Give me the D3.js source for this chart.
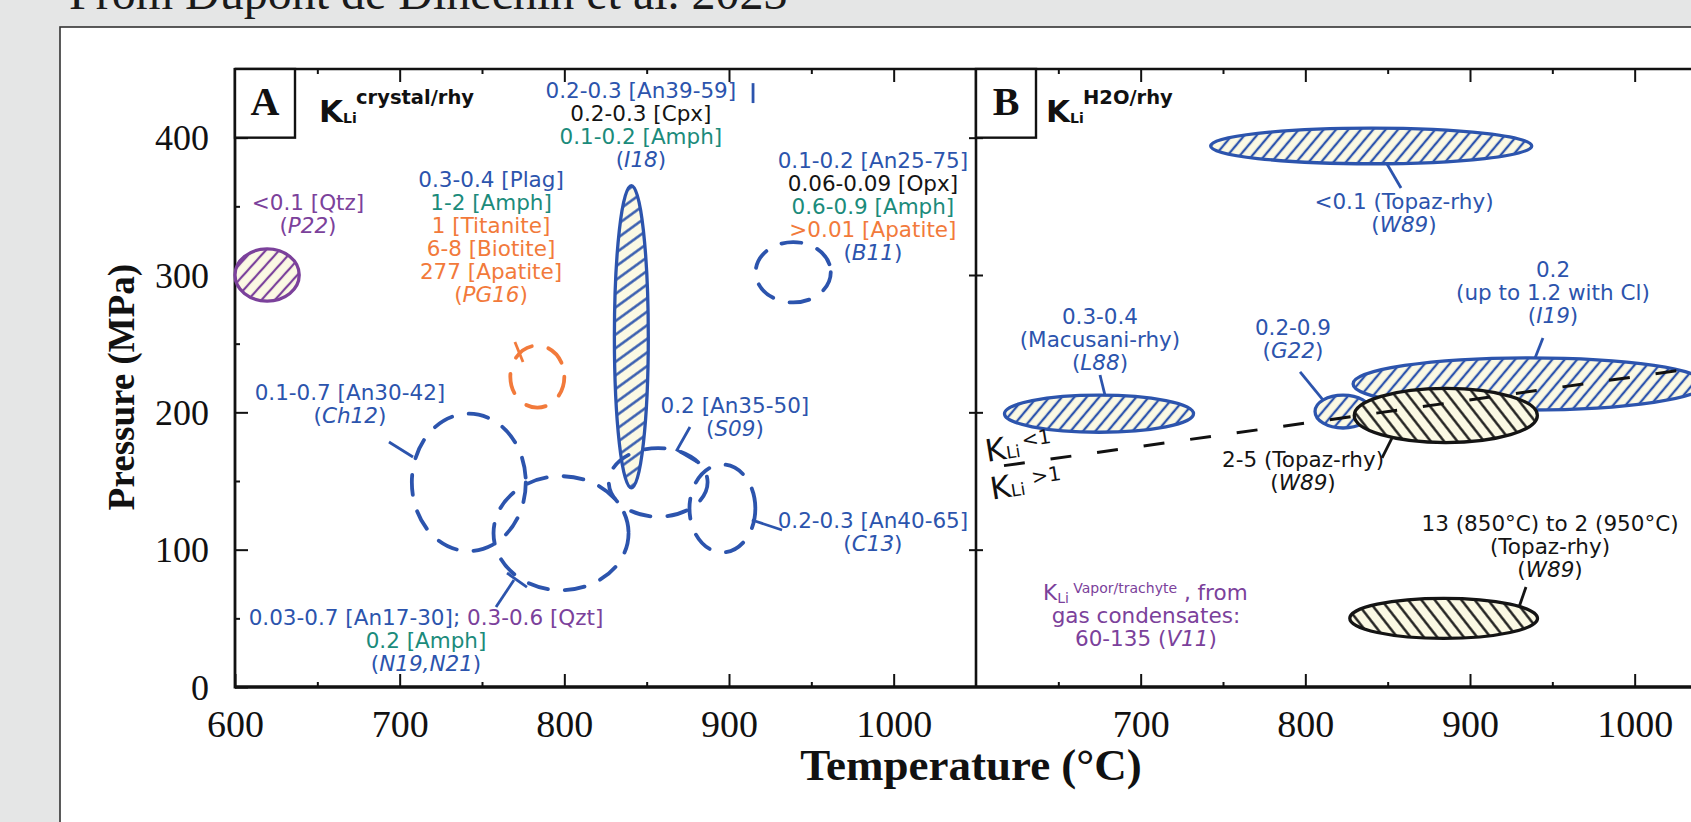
<!DOCTYPE html>
<html><head><meta charset="utf-8">
<script src="https://cdn.jsdelivr.net/npm/d3@7"></script>
<style>
html,body{margin:0;padding:0;background:#e5e6e6;overflow:hidden;}
svg{display:block;}
text{white-space:pre;}
</style></head><body>
<svg id="chart" width="1691" height="822"></svg>
<script>
// ================= DATA =================
const titleText = "From Dupont de Dinechin et al. 2023";
const xDomain = [600, 1050];          // temperature (°C)
const yDomain = [0, 450];             // pressure (MPa)
const xTicksA = [600, 700, 800, 900, 1000];
const xTicksB = [700, 800, 900, 1000];
const xMinor = [650, 750, 850, 950];
const yTicks = [0, 100, 200, 300, 400];
const yMinor = [50, 150, 250, 350];
const yTicksB = [100, 200, 300, 400];

// Panel A: K_Li crystal/rhyolite fields (T, P centre; dT, dP half ranges)
const fieldsA = [
  {ref:"P22",     phase:"qtz",  method:"exp", T:619.5, P:300,   dT:19.5, dP:19},
  {ref:"I18",     phase:"plag", method:"exp", T:840.7, P:255,   dT:10.3, dP:110},
  {ref:"PG16",    phase:"acc",  method:"nat", T:783.6, P:226,   dT:16.4, dP:22.6},
  {ref:"B11",     phase:"plag", method:"nat", T:939,   P:302,   dT:22.8, dP:22},
  {ref:"Ch12",    phase:"plag", method:"nat", T:742,   P:149,   dT:34.6, dP:50},
  {ref:"N19,N21", phase:"plag", method:"nat", T:798,   P:112,   dT:41,   dP:41.5},
  {ref:"S09",     phase:"plag", method:"nat", T:857,   P:149,   dT:30,   dP:25},
  {ref:"C13",     phase:"plag", method:"nat", T:896,   P:130,   dT:20,   dP:32}
];
// Panel B: K_Li H2O/rhyolite fields
const fieldsB = [
  {ref:"W89", phase:"fluid", T:840,   P:394,   dT:97.5, dP:13},
  {ref:"L88", phase:"fluid", T:674.7, P:199,   dT:57.4, dP:13.5},
  {ref:"I19", phase:"fluid", T:936,   P:220.7, dT:107,  dP:19},
  {ref:"G22", phase:"fluid", T:822.9, P:200.6, dT:17,   dP:12},
  {ref:"W89", phase:"topaz", T:885.3, P:197.7, dT:55.6, dP:19.7},
  {ref:"W89", phase:"topaz", T:884,   P:50,    dT:57,   dP:14.6}
];
// K_Li = 1 boundary (T, P)
const boundaryT = [617, 1040];
const boundaryP = [161.2, 232.7];

// Annotation texts: anchor (T, P) of first line; segments [text, phase, italic]
const labelsA = [
  {T:846.5, P:428.9, lines:[[["0.2-0.3 [An39-59]","plag"]],[["0.2-0.3 [Cpx]","px"]],[["0.1-0.2 [Amph]","amph"]],[["(","plag"],["I18","plag",1],[")","plag"]]]},
  {T:755.5, P:364.1, lines:[[["0.3-0.4 [Plag]","plag"]],[["1-2 [Amph]","amph"]],[["1 [Titanite]","acc"]],[["6-8 [Biotite]","acc"]],[["277 [Apatite]","acc"]],[["(","acc"],["PG16","acc",1],[")","acc"]]]},
  {T:644.3, P:347.3, lines:[[["<0.1 [Qtz]","qtz"]],[["(","qtz"],["P22","qtz",1],[")","qtz"]]]},
  {T:987.4, P:377.9, lines:[[["0.1-0.2 [An25-75]","plag"]],[["0.06-0.09 [Opx]","px"]],[["0.6-0.9 [Amph]","amph"]],[[">0.01 [Apatite]","acc"]],[["(","plag"],["B11","plag",1],[")","plag"]]]},
  {T:669.8, P:209,   lines:[[["0.1-0.7 [An30-42]","plag"]],[["(","plag"],["Ch12","plag",1],[")","plag"]]]},
  {T:903.6, P:199.5, lines:[[["0.2 [An35-50]","plag"]],[["(","plag"],["S09","plag",1],[")","plag"]]]},
  {T:987.4, P:115.8, lines:[[["0.2-0.3 [An40-65]","plag"]],[["(","plag"],["C13","plag",1],[")","plag"]]]},
  {T:716,   P:45.1,  lines:[[["0.03-0.7 [An17-30]; ","plag"],["0.3-0.6 [Qzt]","qtz"]],[["0.2 [Amph]","amph"]],[["(","plag"],["N19,N21","plag",1],[")","plag"]]]}
];
const labelsB = [
  {T:859.9, P:348.1, lines:[[["<0.1 (Topaz-rhy)","fluid"]],[["(","fluid"],["W89","fluid",1],[")","fluid"]]]},
  {T:950.4, P:298.5, lines:[[["0.2","fluid"]],[["(up to 1.2 with Cl)","fluid"]],[["(","fluid"],["I19","fluid",1],[")","fluid"]]]},
  {T:675.3, P:264.3, lines:[[["0.3-0.4","fluid"]],[["(Macusani-rhy)","fluid"]],[["(","fluid"],["L88","fluid",1],[")","fluid"]]]},
  {T:792.5, P:256.3, lines:[[["0.2-0.9","fluid"]],[["(","fluid"],["G22","fluid",1],[")","fluid"]]]},
  {T:798.6, P:160.2, lines:[[["2-5 (Topaz-rhy)","topaz"]],[["(","topaz"],["W89","topaz",1],[")","topaz"]]]},
  {T:948.6, P:113.6, lines:[[["13 (850°C) to 2 (950°C)","topaz"]],[["(Topaz-rhy)","topaz"]],[["(","topaz"],["W89","topaz",1],[")","topaz"]]]},
  {T:703.2, P:46.6,  lines:[[["gas condensates:","vapor"]],[["60-135 (","vapor"],["V11","vapor",1],[")","vapor"]]]}
];
// Leader lines (T, P points)
const leadersA = [
  {phase:"plag", pts:[[914.6,439.7],[914.6,425.2]]},
  {phase:"plag", pts:[[693.5,178.4],[708.1,167.5]]},
  {phase:"plag", pts:[[876.3,189.3],[868.4,172.6],[880.6,163.8]]},
  {phase:"plag", pts:[[913.9,121.6],[932.2,114.3]]},
  {phase:"plag", pts:[[758.5,58.3],[769.4,77.9]]},
  {phase:"plag", pts:[[765.2,83],[777.3,72.8]]},
  {phase:"acc",  pts:[[770,251.2],[774.9,236.7]]}
];
const leadersB = [
  {phase:"fluid", pts:[[849.6,380.8],[858.1,363.4]]},
  {phase:"fluid", pts:[[944.3,254.1],[939.5,239.6]]},
  {phase:"fluid", pts:[[675.3,227.2],[678.3,212.6]]},
  {phase:"fluid", pts:[[796.8,229.4],[810.7,209]]},
  {phase:"topaz", pts:[[852.6,181.3],[846.6,166.8]]},
  {phase:"topaz", pts:[[934,72.8],[929.8,58.3]]}
];

// ================= STYLE =================
const phaseColor = {plag:"#2c54ad", px:"#141414", amph:"#1b8b7b", acc:"#f27a3b",
                    qtz:"#7b419b", fluid:"#2c54ad", topaz:"#141414", vapor:"#7b419b"};
const cream = "#fbf9e4";
const labelFont = "DejaVu Sans";
const serif = "Liberation Serif";
const lineH = 23;

// ================= DRAW =================
const svg = d3.select("#chart");
const W = 1691, H = 822;
const xA = d3.scaleLinear().domain(xDomain).range([235, 976]);
const xB = d3.scaleLinear().domain(xDomain).range([976, 1717]);
const y  = d3.scaleLinear().domain(yDomain).range([687, 69]);

svg.append("rect").attr("width", W).attr("height", H).attr("fill", "#e5e6e6");
svg.append("text").attr("x", 69).attr("y", 9).attr("font-family", serif)
  .attr("font-size", 48).attr("fill", "#1a1a1a").text(titleText);
svg.append("rect").attr("x", 60).attr("y", 27).attr("width", 1700).attr("height", 900)
  .attr("fill", "#fff").attr("stroke", "#333").attr("stroke-width", 1.6);

// patterns
const defs = svg.append("defs");
function hatch(id, color, angle, spacing, w) {
  const p = defs.append("pattern").attr("id", id).attr("patternUnits", "userSpaceOnUse")
    .attr("width", spacing).attr("height", spacing).attr("patternTransform", `rotate(${angle})`);
  p.append("rect").attr("width", spacing).attr("height", spacing).attr("fill", cream);
  p.append("line").attr("x1", spacing/2).attr("x2", spacing/2).attr("y1", -1).attr("y2", spacing+1)
    .attr("stroke", color).attr("stroke-width", w);
}
hatch("h-qtz", phaseColor.qtz, 42, 10, 2.2);
hatch("h-plag", phaseColor.plag, 54, 11, 2.4);
hatch("h-fluid", phaseColor.fluid, 40, 9.5, 2.3);
hatch("h-topaz", phaseColor.topaz, -38, 10.5, 2.3);
defs.append("clipPath").attr("id", "clipB").append("rect")
  .attr("x", 976).attr("y", 60).attr("width", 800).attr("height", 640);

// axes
function styleAxis(g) {
  g.select(".domain").remove();
  g.selectAll(".tick line").attr("stroke", "#111").attr("stroke-width", 2);
  g.selectAll(".tick text").attr("fill", "#111").attr("font-family", serif);
}
const axG = svg.append("g");
// panel A bottom
axG.append("g").attr("transform", `translate(0,${y(0)})`)
  .call(d3.axisBottom(xA).tickValues(xTicksA).tickSize(-13).tickFormat(d3.format("d")))
  .call(styleAxis).call(g => g.selectAll(".tick text").attr("y", 50).attr("dy", null).attr("font-size", 38));
axG.append("g").attr("transform", `translate(0,${y(0)})`)
  .call(d3.axisBottom(xA).tickValues(xMinor).tickSize(-5).tickFormat("")).call(styleAxis);
// panel A top
axG.append("g").attr("transform", `translate(0,${y(450)})`)
  .call(d3.axisTop(xA).tickValues(xTicksA.slice(1)).tickSize(-13).tickFormat("")).call(styleAxis);
axG.append("g").attr("transform", `translate(0,${y(450)})`)
  .call(d3.axisTop(xA).tickValues(xMinor).tickSize(-5).tickFormat("")).call(styleAxis);
// panel A left
axG.append("g").attr("transform", `translate(${xA(600)},0)`)
  .call(d3.axisLeft(y).tickValues(yTicks).tickSize(-13).tickFormat(d3.format("d")))
  .call(styleAxis).call(g => g.selectAll(".tick text").attr("x", -26).attr("dy", "0.34em").attr("font-size", 36));
axG.append("g").attr("transform", `translate(${xA(600)},0)`)
  .call(d3.axisLeft(y).tickValues(yMinor).tickSize(-5).tickFormat("")).call(styleAxis);
// panel B bottom/top
axG.append("g").attr("transform", `translate(0,${y(0)})`)
  .call(d3.axisBottom(xB).tickValues(xTicksB).tickSize(-13).tickFormat(d3.format("d")))
  .call(styleAxis).call(g => g.selectAll(".tick text").attr("y", 50).attr("dy", null).attr("font-size", 38));
axG.append("g").attr("transform", `translate(0,${y(0)})`)
  .call(d3.axisBottom(xB).tickValues(xMinor).tickSize(-5).tickFormat("")).call(styleAxis);
axG.append("g").attr("transform", `translate(0,${y(450)})`)
  .call(d3.axisTop(xB).tickValues(xTicksB).tickSize(-13).tickFormat("")).call(styleAxis);
axG.append("g").attr("transform", `translate(0,${y(450)})`)
  .call(d3.axisTop(xB).tickValues(xMinor).tickSize(-5).tickFormat("")).call(styleAxis);
// panel B left (crossing ticks)
axG.append("g").attr("transform", `translate(${xB(600)},0)`)
  .call(d3.axisLeft(y).tickValues(yTicksB).tickSize(7).tickFormat("")).call(styleAxis);
axG.append("g").attr("transform", `translate(${xB(600)},0)`)
  .call(d3.axisLeft(y).tickValues(yTicksB).tickSize(-7).tickFormat("")).call(styleAxis);

// frame
const frame = svg.append("g").attr("stroke", "#111").attr("fill", "none");
frame.append("line").attr("x1", xA(600)).attr("x2", xA(600)).attr("y1", y(450)-1).attr("y2", y(0)+1.5).attr("stroke-width", 2.8);
frame.append("line").attr("x1", xA(600)).attr("x2", W).attr("y1", y(450)).attr("y2", y(450)).attr("stroke-width", 2.4);
frame.append("line").attr("x1", xA(600)).attr("x2", W).attr("y1", y(0)).attr("y2", y(0)).attr("stroke-width", 3.6);
frame.append("line").attr("x1", xB(600)).attr("x2", xB(600)).attr("y1", y(450)).attr("y2", y(0)).attr("stroke-width", 2.6);

// panel boxes
[[xA, "A"], [xB, "B"]].forEach(([xs, letter]) => {
  svg.append("rect").attr("x", xs(600)).attr("y", y(450)).attr("width", 60).attr("height", y(400) - y(450))
    .attr("fill", "#fff").attr("stroke", "#111").attr("stroke-width", 2.4);
  svg.append("text").attr("x", xs(600) + 30).attr("y", y(400) - 23).attr("text-anchor", "middle")
    .attr("font-family", serif).attr("font-weight", "bold").attr("font-size", 40).attr("fill", "#111").text(letter);
});
function kLabel(xs, sup, off) {
  const x0 = xs(600) + off, yb = y(400) - 16;
  svg.append("text").attr("x", x0).attr("y", yb).attr("font-family", labelFont).attr("font-weight", "bold")
    .attr("font-size", 31).attr("fill", "#111").text("K");
  svg.append("text").attr("x", x0 + 24).attr("y", yb + 1).attr("font-family", labelFont).attr("font-weight", "bold")
    .attr("font-size", 14).attr("fill", "#111").text("Li");
  svg.append("text").attr("x", x0 + 37).attr("y", yb - 18).attr("font-family", labelFont).attr("font-weight", "bold")
    .attr("font-size", 19.5).attr("fill", "#111").text(sup);
}
kLabel(xA, "crystal/rhy", 84);
kLabel(xB, "H2O/rhy", 70);

// ellipses
function ell(g, xs, d, hatchId, dashed) {
  const cx = xs(d.T), cy = y(d.P);
  const e = g.append("ellipse").attr("cx", cx).attr("cy", cy)
    .attr("rx", xs(d.T + d.dT) - cx).attr("ry", y(d.P - d.dP) - cy)
    .attr("stroke", phaseColor[d.phase]).attr("stroke-width", dashed ? 3.8 : 3.3);
  if (dashed) e.attr("fill", "none").attr("stroke-dasharray", "20 17").attr("stroke-linecap", "round");
  else e.attr("fill", `url(#${hatchId})`);
}
const gA = svg.append("g");
fieldsA.forEach(d => ell(gA, xA, d, "h-" + d.phase, d.method === "nat"));

const gB = svg.append("g").attr("clip-path", "url(#clipB)");
fieldsB.forEach(d => ell(gB, xB, d, "h-" + d.phase, false));
// boundary K_Li = 1
gB.append("line").attr("x1", xB(boundaryT[0])).attr("y1", y(boundaryP[0]))
  .attr("x2", xB(boundaryT[1])).attr("y2", y(boundaryP[1]))
  .attr("stroke", "#111").attr("stroke-width", 3).attr("stroke-dasharray", "21 26");

// leaders
const line = (xs) => d3.line().x(p => xs(p[0])).y(p => y(p[1]));
leadersA.forEach(l => gA.append("path").attr("d", line(xA)(l.pts)).attr("fill", "none")
  .attr("stroke", phaseColor[l.phase]).attr("stroke-width", 2.8));
leadersB.forEach(l => gB.append("path").attr("d", line(xB)(l.pts)).attr("fill", "none")
  .attr("stroke", phaseColor[l.phase]).attr("stroke-width", 2.8));

// labels
function drawLabels(g, xs, labels) {
  labels.forEach(l => l.lines.forEach((ln, i) => {
    const t = g.append("text").attr("x", xs(l.T)).attr("y", y(l.P) + i * lineH)
      .attr("text-anchor", "middle").attr("font-family", labelFont).attr("font-size", 21.5);
    ln.forEach(([s, ph, it]) => t.append("tspan").text(s).attr("fill", phaseColor[ph])
      .attr("font-style", it ? "italic" : null));
  }));
}
drawLabels(svg, xA, labelsA);
drawLabels(svg, xB, labelsB);

// vapour header line
{
  const t = svg.append("text").attr("x", xB(640.7)).attr("y", y(63.4)).attr("font-family", labelFont)
    .attr("fill", phaseColor.vapor).attr("font-size", 21.5);
  t.append("tspan").text("K");
  t.append("tspan").attr("font-size", 14).attr("dy", 3).text("Li ");
  t.append("tspan").attr("font-size", 14).attr("dy", -10).text("Vapor/trachyte");
  t.append("tspan").attr("dy", 7).text(" , from");
}
// K_Li < 1 / > 1
[[606.7, 163.8, "<1", 3], [609.7, 136.3, ">1", 8]].forEach(([T, P, s, gap]) => {
  const t = svg.append("text").attr("transform", `translate(${xB(T)},${y(P)}) rotate(-9)`)
    .attr("font-family", labelFont).attr("fill", "#111");
  t.append("tspan").attr("font-size", 31).text("K");
  t.append("tspan").attr("font-size", 17).text("Li");
  t.append("tspan").attr("font-size", 20).attr("dx", gap).attr("dy", -9).text(s);
});

// axis titles
svg.append("text").attr("transform", "translate(134,387) rotate(-90)").attr("text-anchor", "middle")
  .attr("font-family", serif).attr("font-weight", "bold").attr("font-size", 37).attr("fill", "#111")
  .text("Pressure (MPa)");
svg.append("text").attr("x", 971).attr("y", 780).attr("text-anchor", "middle")
  .attr("font-family", serif).attr("font-weight", "bold").attr("font-size", 45).attr("fill", "#111")
  .text("Temperature (°C)");
</script>
</body></html>
